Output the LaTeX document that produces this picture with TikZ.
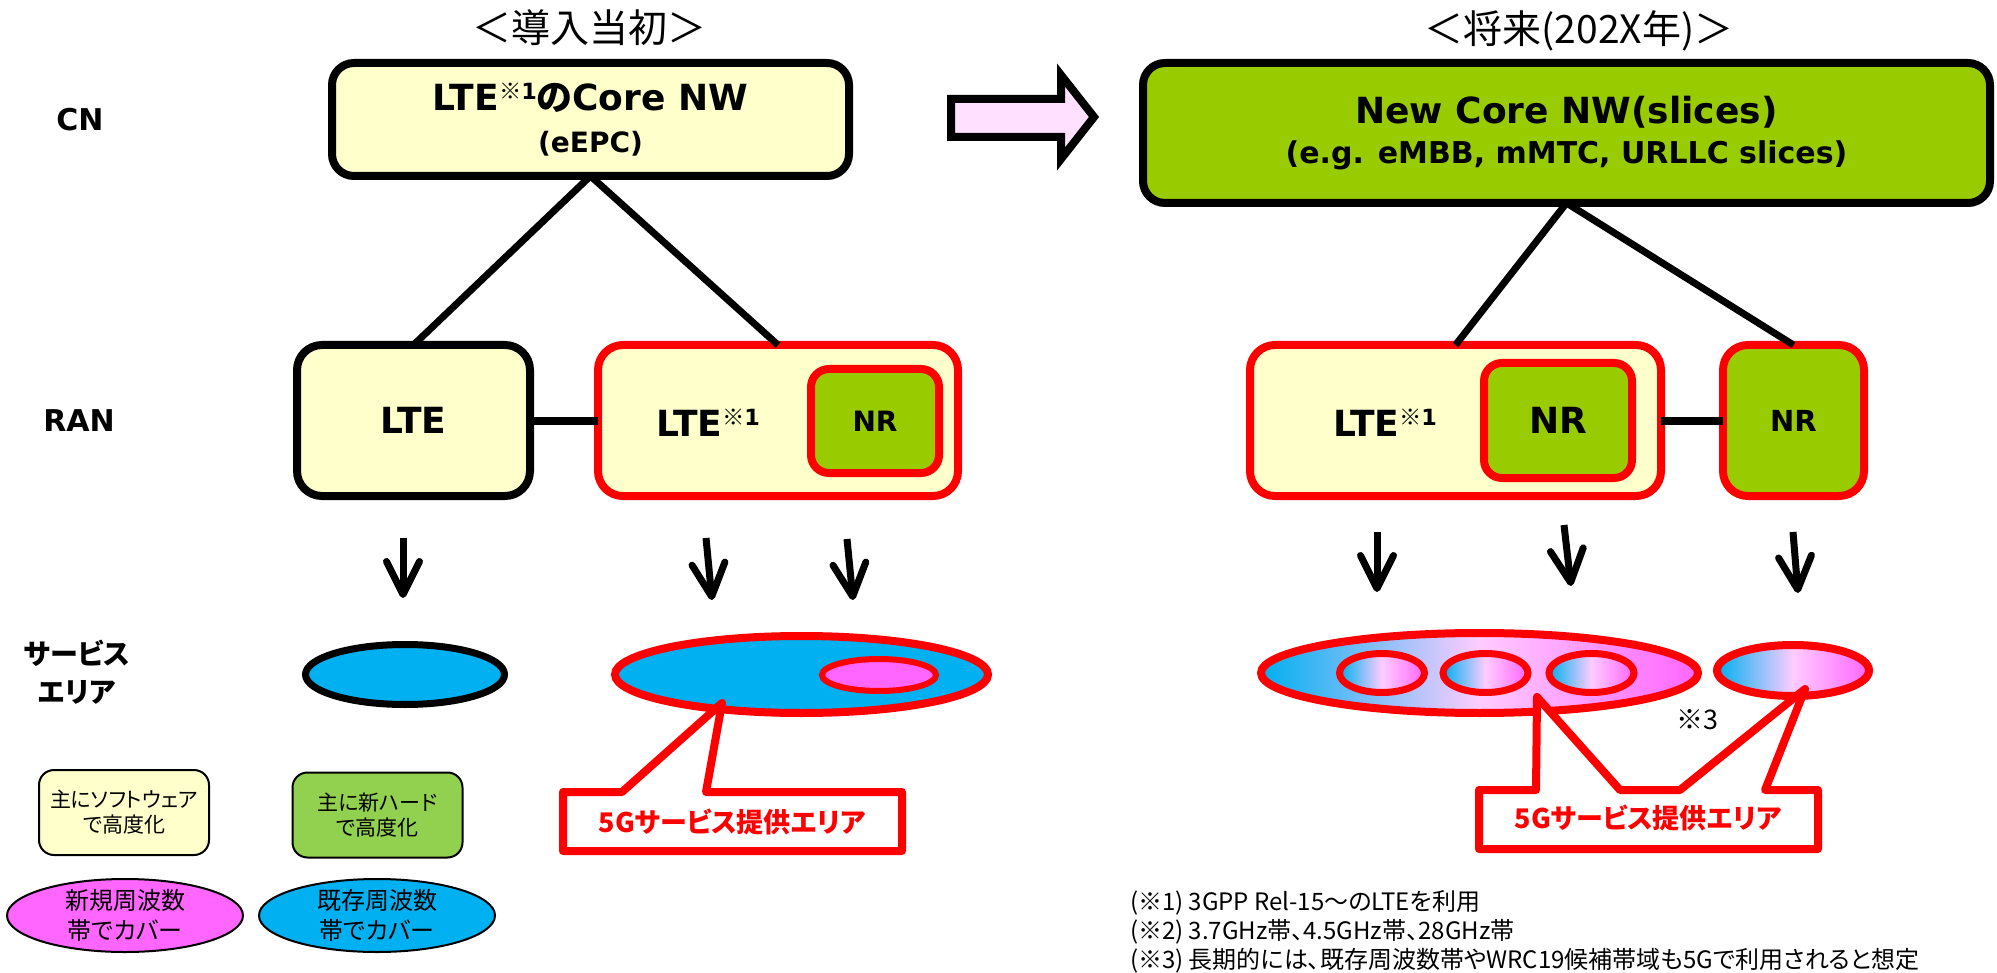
\documentclass[tikz,border=0pt]{standalone}
\usepackage{fontspec}
\setmainfont{DejaVu Sans}
\newfontfamily\jp[RawFeature=+palt]{Noto Sans CJK JP}
\newfontfamily\jpw{Noto Sans CJK JP}
\usetikzlibrary{positioning,shapes.geometric,arrows.meta}

\definecolor{ltyellow}{HTML}{FFFFCC}
\definecolor{coregreen}{HTML}{99CC00}
\definecolor{hwgreen}{HTML}{92D050}
\definecolor{areablue}{HTML}{00B0F0}
\definecolor{areapink}{HTML}{FF66FF}
\definecolor{palepink}{HTML}{FFCCFF}
\definecolor{arrowpink}{HTML}{FFE0FF}
\definecolor{nrred}{HTML}{FF0000}

% blue -> pale pink -> magenta across an area
\pgfdeclarehorizontalshading{areagrad}{100bp}{color(0bp)=(areablue); color(25bp)=(areablue);
  color(50bp)=(palepink); color(75bp)=(areapink); color(100bp)=(areapink)}

\newcommand\sz[2]{\fontsize{#1}{#2}\selectfont}
% raised note mark after a label, e.g. LTE^{*1}
\newcommand\refmark[1]{\raisebox{0.3em}{\scalebox{0.62}{{\jp\mdseries ※}#1}}}

\begin{document}
\begin{tikzpicture}[x=1pt, y=-1pt,
  every node/.style={inner sep=0pt, outer sep=0pt},
  rowlabel/.style={font=\sz{30}{36}\bfseries},
  heading/.style={font=\jpw\sz{39}{44}},
  corebox/.style={draw, line width=8pt, rounded corners=22pt, align=center},
  ranbox/.style={draw=#1, line width=8pt, rounded corners=25pt, fill=ltyellow, minimum height=151pt},
  nrbox/.style={draw=nrred, line width=8pt, rounded corners=18pt, fill=coregreen},
  link/.style={line width=7pt},
  xlink/.style={line width=8pt},
  down/.style={line width=7pt, -{Straight Barb[length=33pt, width=33pt, round]}},
  area/.style={ellipse, draw=nrred, line width=8pt},
  grad/.style={shading=areagrad},
  callout/.style={draw=nrred, line width=8pt, fill=white, line join=round},
  calltext/.style={text=nrred, font=\jp\bfseries\sz{27}{32}},
  legbox/.style={draw, line width=2pt, rounded corners=15pt, minimum width=170pt, minimum height=85pt, align=center, font=\jp\sz{21}{25}},
  legarea/.style={ellipse, draw, line width=2pt, minimum width=236pt, minimum height=73pt, inner ysep=-4pt, align=center, font=\jp\sz{24}{30}}
]
\useasboundingbox (0,0) rectangle (1997,973);

% headings and row labels
\node[heading] (past) at (589,28) {＜導入当初＞};
\node[heading] (future) at (1579,31) {＜将来(202X年)＞};
\node[rowlabel] (cn) at (80,120) {CN};
\node[rowlabel] (ran) at (79,421) {RAN};
\node[font=\jp\bfseries\sz{28}{38}, align=center] (svc) at (77,672) {サービス\\エリア};

% core networks
\node[corebox, fill=ltyellow, minimum width=517pt, minimum height=113pt, font=\bfseries\sz{36}{42}] (core1) at (590.5,119.5)
  {LTE\refmark{1}{\jp の}Core NW\\{\sz{28}{34}(eEPC)}};
\node[corebox, fill=coregreen, minimum width=847pt, minimum height=140pt, font=\bfseries\sz{36}{40}] (core2) at (1566.5,133)
  {New Core NW(slices)\\{\sz{30}{36}(e.g. eMBB, mMTC, URLLC slices)}};

% transition arrow
\draw[line width=8pt, fill=arrowpink, line join=miter] (951,99) -- (1061,99) -- (1061,75) -- (1094,117)
  -- (1061,159) -- (1061,137) -- (951,137) -- cycle;

% RAN, initial
\node[ranbox=black, minimum width=233pt, font=\bfseries\sz{36}{40}] (lte1) at (413.5,420.5) {LTE};
\node[ranbox=nrred, minimum width=360pt] (ran1) at (778,420.5) {};
\node[font=\bfseries\sz{36}{40}, anchor=base] (ran1lte) at (708,436) {LTE\refmark{1}};
\node[nrbox, minimum width=128pt, minimum height=104pt, font=\bfseries\sz{28}{32}] (nr1) at (875,421) {NR};

% RAN, future
\node[ranbox=nrred, minimum width=411pt] (ran2) at (1455.5,420.5) {};
\node[font=\bfseries\sz{36}{40}, anchor=base] (ran2lte) at (1385,436) {LTE\refmark{1}};
\node[nrbox, minimum width=148pt, minimum height=115pt, font=\bfseries\sz{36}{40}] (nr2) at (1558,420.5) {NR};
\node[ranbox=nrred, fill=coregreen, minimum width=141pt, font=\bfseries\sz{29}{32}] (nr3) at (1793.5,420.5) {NR};

\draw[link] (core1.south) -- (lte1.north);
\draw[link] (core1.south) -- (ran1.north);
\draw[link] (core2.south) -- (ran2.north);
\draw[link] (core2.south) -- (nr3.north);
\draw[xlink] (lte1.east) -- (ran1.west);
\draw[xlink] (ran2.east) -- (nr3.west);

% service areas
\node[ellipse, draw, line width=7pt, fill=areablue, minimum width=199pt, minimum height=60pt] (cov1) at (405,674.5) {};
\node[area, fill=areablue, minimum width=373pt, minimum height=77pt] (cov2) at (801.5,674.5) {};
\node[area, line width=6pt, fill=areapink, minimum width=114pt, minimum height=32pt] (cov2nr) at (879,675) {};
\node[area, grad, minimum width=437pt, minimum height=80pt] (cov3) at (1479.5,673) {};
\foreach \cx [count=\i] in {1382,1485.5,1591.5}
  \node[area, grad, line width=7pt, minimum width=85pt, minimum height=39pt] (cov3nr\i) at (\cx,673) {};
\node[area, grad, minimum width=152pt, minimum height=51pt] (cov4) at (1793,670.5) {};
\node[font=\jp\sz{27}{30}] (mark3) at (1697,720) {※3};

% RAN to area arrows
\coordinate (d1a) at (403,538);   \coordinate (d1b) at (403,598);
\coordinate (d2a) at (706,538);   \coordinate (d2b) at (712,600);
\coordinate (d3a) at (847,539);   \coordinate (d3b) at (853,600);
\coordinate (d4a) at (1377,532);  \coordinate (d4b) at (1377,592);
\coordinate (d5a) at (1564,525);  \coordinate (d5b) at (1571,586);
\coordinate (d6a) at (1793,532);  \coordinate (d6b) at (1798,593);
\foreach \k in {1,...,6}
  \draw[down] (d\k a) -- (d\k b);

% callouts
\draw[callout] (563,792) -- (622,792) -- (722,703) -- (706,792) -- (902,792) -- (902,851) -- (563,851) -- cycle;
\node[calltext] (area5g1) at (732,822) {5Gサービス提供エリア};
\draw[callout] (1479,790) -- (1536,790) -- (1537,697) -- (1620,790) -- (1680,790) -- (1805,689)
  -- (1765,790) -- (1818,790) -- (1818,849) -- (1479,849) -- cycle;
\node[calltext] (area5g2) at (1648,818) {5Gサービス提供エリア};

% legend
\node[legbox, fill=ltyellow] (sw) at (124,812.5) {主にソフトウェア\\で高度化};
\node[legbox, fill=hwgreen] (hw) at (377.5,815) {主に新ハード\\で高度化};
\node[legarea, fill=areapink] (newband) at (125,915.5) {新規周波数\\帯でカバー};
\node[legarea, fill=areablue] (oldband) at (377,915.5) {既存周波数\\帯でカバー};

% notes
\node[anchor=west, align=left, font=\jp\sz{24}{29}] (notes) at (1130,932)
  {(※1) 3GPP Rel-15～のLTEを利用\\(※2) 3.7GHz帯、4.5GHz帯、28GHz帯\\(※3) 長期的には、既存周波数帯やWRC19候補帯域も5Gで利用されると想定};
\end{tikzpicture}
\end{document}
